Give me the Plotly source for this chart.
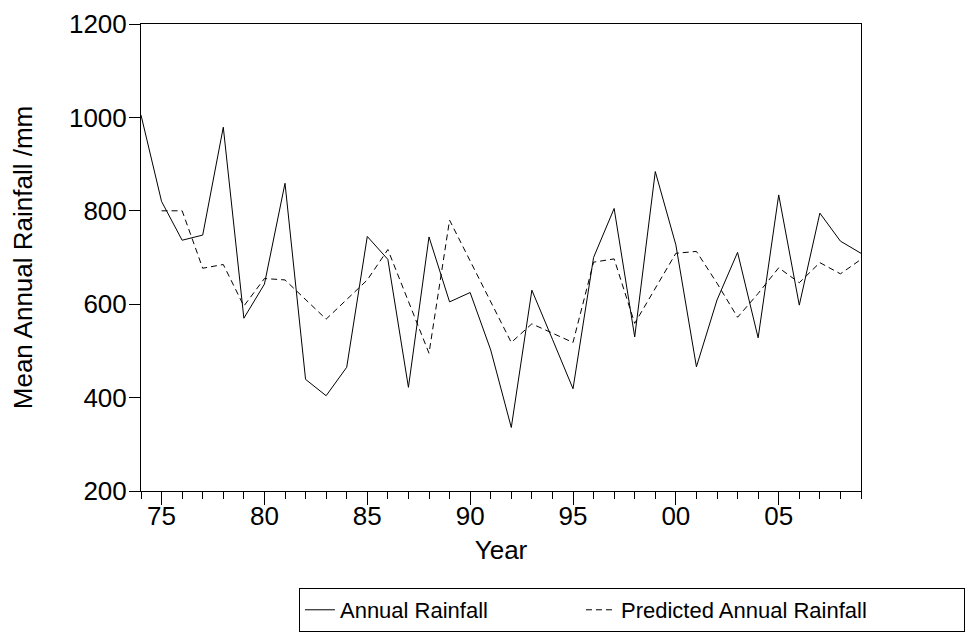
import plotly.graph_objects as go

years = list(range(1974, 2010))
annual_rainfall = [1005, 820, 737, 748, 979, 570, 643, 859, 439, 404, 465, 745,
                   696, 422, 744, 605, 625, 502, 336, 630, 525, 419, 700, 805,
                   530, 884, 727, 466, 609, 711, 528, 834, 598, 795, 735, 709]
predicted_rainfall = [None, 800, 800, 677, 685, 596, 655, 652, 610, 568, 610, 652,
                      717, 606, 495, 780, 693, 605, 518, 558, 538, 518, 690, 697,
                      559, 634, 709, 713, 645, 572, 623, 678, 646, 689, 665, 696]
x_tickvals = [1975, 1980, 1985, 1990, 1995, 2000, 2005]
x_ticktext = ["75", "80", "85", "90", "95", "00", "05"]
y_tickvals = [200, 400, 600, 800, 1000, 1200]

FONT = "Liberation Sans, Arial, sans-serif"

fig = go.Figure()
fig.add_trace(go.Scatter(x=years, y=annual_rainfall, mode="lines",
                         name="Annual Rainfall", legendwidth=236,
                         line=dict(color="black", width=1)))
fig.add_trace(go.Scatter(x=years, y=predicted_rainfall, mode="lines",
                         name="Predicted Annual Rainfall", legendwidth=338,
                         line=dict(color="black", width=1, dash="6px,4px")))

fig.update_layout(
    width=971, height=627,
    margin=dict(l=133, r=118, t=16, b=144, autoexpand=False),
    paper_bgcolor="white", plot_bgcolor="white",
    font=dict(family=FONT, size=26, color="black"),
    showlegend=True,
    legend=dict(orientation="h", x=1.1444, xanchor="right", y=-0.2077, yanchor="top",
                bordercolor="black", borderwidth=1, bgcolor="white",
                font=dict(size=22), traceorder="normal"),
)
fig.update_xaxes(
    range=[1974, 2009], tickvals=x_tickvals, ticktext=x_ticktext,
    ticks="outside", ticklen=13, tickcolor="black", tickwidth=1,
    minor=dict(tickvals=years, ticks="outside", ticklen=7, tickcolor="black", tickwidth=1),
    showline=True, linecolor="black", linewidth=1, mirror=True,
    showgrid=False, zeroline=False, automargin=False,
    tickfont=dict(size=26), ticklabelstandoff=-11,
    title=dict(text="Year", font=dict(size=26), standoff=10),
)
fig.update_yaxes(
    range=[200, 1200], tickvals=y_tickvals,
    ticks="outside", ticklen=11, tickcolor="black", tickwidth=1,
    showline=True, linecolor="black", linewidth=1, mirror=True,
    showgrid=False, zeroline=False, automargin=False,
    tickfont=dict(size=26), ticklabelstandoff=-3,
    title=dict(text="Mean Annual Rainfall /mm", font=dict(size=26), standoff=30),
)

fig.write_html("out.html")
